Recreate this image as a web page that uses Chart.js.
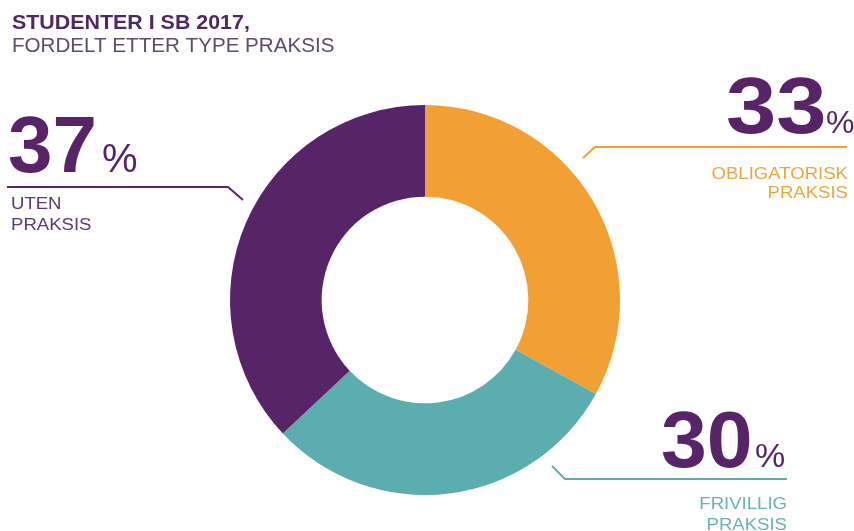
<!DOCTYPE html>
<html>
<head>
<meta charset="utf-8">
<script src="https://cdn.jsdelivr.net/npm/chart.js@4"></script>
<style>
  html, body { margin: 0; padding: 0; background: #ffffff; }
  #wrap { width: 854px; height: 531px; position: relative; }
</style>
</head>
<body>
<div id="wrap"><canvas id="praksisChart" width="854" height="531"></canvas></div>
<script>
// Data
const categories = ['Obligatorisk praksis', 'Frivillig praksis', 'Uten praksis'];
const shares = [33, 30, 37];
const sliceColors = ['#f2a033', '#5badb0', '#582468'];
const labelLines = [['OBLIGATORISK', 'PRAKSIS'], ['FRIVILLIG', 'PRAKSIS'], ['UTEN', 'PRAKSIS']];

// text drawn with a horizontal stretch (the original typeface is wider than Arial)
function wideText(ctx, text, x, y, sx) {
  ctx.save();
  ctx.translate(x, y);
  ctx.scale(sx, 1);
  ctx.fillText(text, 0, 0);
  ctx.restore();
}

// Draw the title, big percentages and leader lines on top of the doughnut
const calloutPlugin = {
  id: 'callouts',
  afterDraw(chart) {
    const ctx = chart.ctx;
    ctx.save();

    // title
    ctx.textBaseline = 'alphabetic';
    ctx.textAlign = 'left';
    ctx.fillStyle = '#4f2862';
    ctx.font = 'bold 20px "Liberation Sans", Arial, sans-serif';
    wideText(ctx, 'STUDENTER I SB 2017,', 12, 29, 1.07);
    ctx.fillStyle = '#5d4c6a';
    ctx.font = '20px "Liberation Sans", Arial, sans-serif';
    wideText(ctx, 'FORDELT ETTER TYPE PRAKSIS', 12, 52, 1.03);

    // callout settings per slice: number pos, percent pos, leader line, label pos
    const callouts = [
      { num: [726, 133], sx: 1.13, pct: [826, 133], pctSize: 32, line: [[583, 158], [595, 147], [847, 147]], align: 'right', lx: 848, ly: [179, 198], textColor: '#eaa640' },
      { num: [661, 467], sx: 1.03, pct: [755, 467], pctSize: 34, line: [[552, 466], [565, 479], [787, 479]], align: 'right', lx: 787, ly: [509, 530], textColor: '#6ab3b5' },
      { num: [8, 172], sx: 1.0, pct: [102, 172], pctSize: 40, line: [[7, 187], [228, 187], [243, 200]], align: 'left', lx: 11, ly: [209, 230], textColor: '#5b3a6e' }
    ];

    callouts.forEach((c, i) => {
      ctx.fillStyle = '#582468';
      ctx.textAlign = 'left';
      ctx.font = 'bold 80px "Liberation Sans", Arial, sans-serif';
      wideText(ctx, String(shares[i]), c.num[0], c.num[1], c.sx);
      ctx.font = c.pctSize + 'px "Liberation Sans", Arial, sans-serif';
      ctx.fillText('%', c.pct[0], c.pct[1]);

      ctx.strokeStyle = sliceColors[i];
      ctx.lineWidth = 2;
      ctx.beginPath();
      ctx.moveTo(c.line[0][0], c.line[0][1]);
      for (let k = 1; k < c.line.length; k++) ctx.lineTo(c.line[k][0], c.line[k][1]);
      ctx.stroke();

      ctx.fillStyle = c.textColor;
      ctx.textAlign = c.align;
      ctx.font = '16px "Liberation Sans", Arial, sans-serif';
      labelLines[i].forEach((t, j) => wideText(ctx, t, c.lx, c.ly[j], 1.16));
    });

    ctx.restore();
  }
};

const ctx = document.getElementById('praksisChart').getContext('2d');
new Chart(ctx, {
  type: 'doughnut',
  data: {
    labels: categories,
    datasets: [{
      data: shares,
      backgroundColor: sliceColors,
      borderWidth: 0
    }]
  },
  options: {
    responsive: false,
    animation: false,
    cutout: '53%',
    layout: {
      padding: { top: 105, bottom: 36, left: 230, right: 234 }
    },
    plugins: {
      legend: { display: false },
      tooltip: { enabled: false }
    }
  },
  plugins: [calloutPlugin]
});
</script>
</body>
</html>
